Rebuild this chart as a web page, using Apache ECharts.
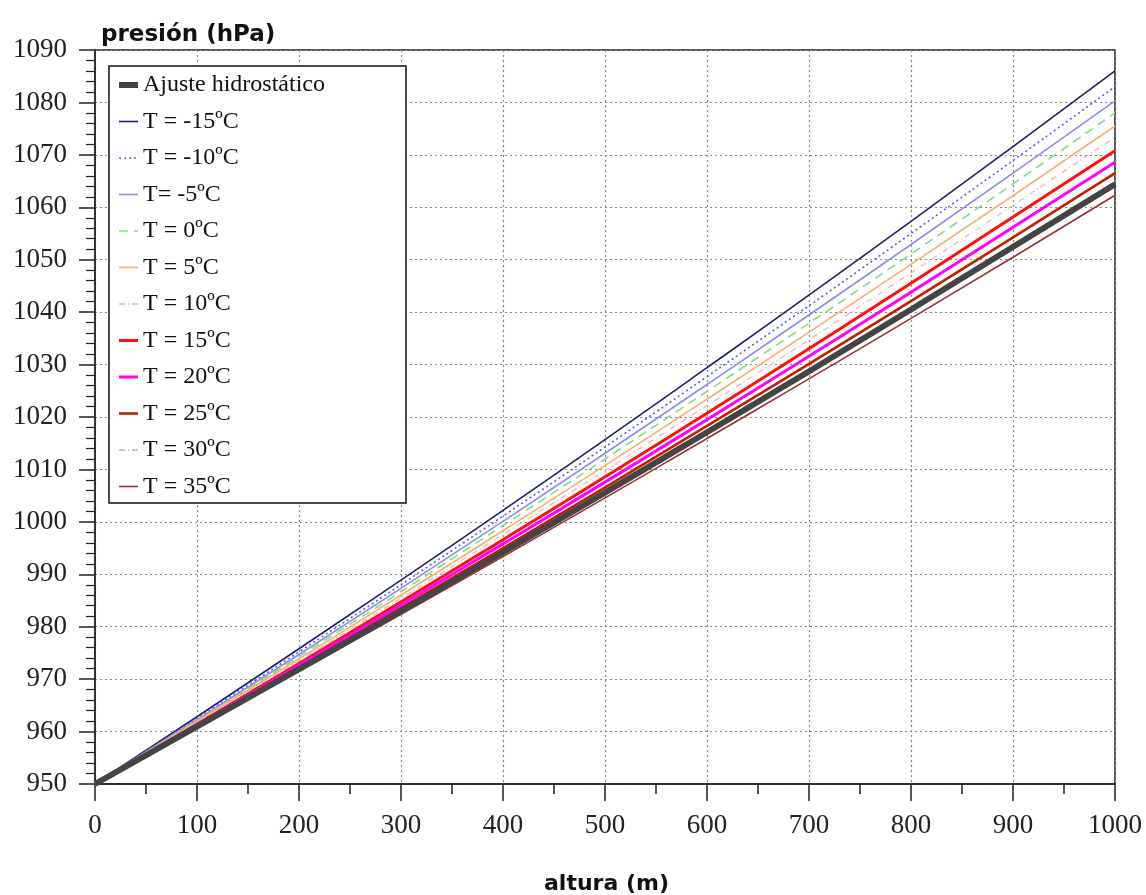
<!DOCTYPE html>
<html>
<head>
<meta charset="utf-8">
<script src="https://cdn.jsdelivr.net/npm/echarts@6/dist/echarts.min.js"></script>
<style>
  html, body { margin: 0; padding: 0; background: #fff; }
  #main { width: 1146px; height: 895px; }
</style>
</head>
<body>
<div id="main"></div>
<script>
// altura (m)
var heights = [0, 200, 400, 600, 800, 1000];

// presión (hPa)
var ajuste = [950, 971.9, 994.2, 1017.1, 1040.5, 1064.4];
var tM15 = [950, 975.8, 1002.2, 1029.4, 1057.3, 1086.0];
var tM10 = [950, 975.2, 1001.1, 1027.7, 1055.0, 1083.0];
var tM5 = [950, 974.7, 1000.1, 1026.2, 1052.9, 1080.3];
var t0 = [950, 974.3, 999.3, 1024.9, 1051.1, 1078.0];
var t5 = [950, 973.9, 998.3, 1023.4, 1049.1, 1075.5];
var t10 = [950, 973.5, 997.6, 1022.2, 1047.5, 1073.4];
var t15 = [950, 973.0, 996.6, 1020.7, 1045.5, 1070.8];
var t20 = [950, 972.6, 995.8, 1019.5, 1043.8, 1068.6];
var t25 = [950, 972.2, 995.0, 1018.3, 1042.1, 1066.5];
var t30 = [950, 971.8, 994.1, 1017.0, 1040.3, 1064.2];
var t35 = [950, 971.5, 993.4, 1015.9, 1038.8, 1062.3];

var serif = '"Times New Roman", "Liberation Serif", serif';
var dashDot = [6, 3, 1, 3];

function pairs(ys) {
  return heights.map(function (h, i) { return [h, ys[i]]; });
}

function line(name, ys, color, width, type, z) {
  return {
    name: name,
    type: 'line',
    data: pairs(ys),
    smooth: true,
    symbol: 'none',
    z: z || 2,
    lineStyle: { color: color, width: width, type: type || 'solid' },
    itemStyle: { color: color }
  };
}

var chart = echarts.init(document.getElementById('main'));

var option = {
  backgroundColor: '#fff',
  animation: false,
  title: [
    {
      text: 'presión (hPa)',
      left: 96, top: 19,
      textStyle: { fontFamily: '"DejaVu Sans", sans-serif', fontWeight: 'bold', fontSize: 23, color: '#111' }
    },
    {
      text: 'altura (m)',
      left: 544, top: 873,
      padding: 0,
      textStyle: { fontFamily: '"DejaVu Sans", sans-serif', fontWeight: 'bold', fontSize: 22, color: '#111' }
    }
  ],
  grid: {
    left: 95, right: 31, top: 50, bottom: 111,
    show: true, borderColor: '#222', borderWidth: 1.5
  },
  legend: {
    orient: 'vertical',
    left: 116, top: 73,
    padding: 0,
    z: 10,
    itemWidth: 19,
    itemHeight: 14,
    itemGap: 12.5,
    itemStyle: { opacity: 0 },
    lineStyle: { width: 'inherit' },
    textStyle: { fontFamily: serif, fontSize: 24, color: '#111' }
  },
  graphic: [{
    type: 'rect',
    z: 5,
    shape: { x: 109, y: 66, width: 297, height: 437 },
    style: { fill: '#fff', stroke: '#111', lineWidth: 1.5 }
  }],
  xAxis: {
    type: 'value',
    min: 0, max: 1000, interval: 100,
    axisLine: { lineStyle: { color: '#222', width: 1.5 } },
    axisTick: { show: true, length: 17, lineStyle: { color: '#222', width: 1.5 } },
    minorTick: { show: true, splitNumber: 2, length: 10, lineStyle: { color: '#222', width: 1.5 } },
    splitLine: { show: true, lineStyle: { color: '#888', type: [2, 3], width: 1.2 } },
    axisLabel: {
      margin: 28, fontFamily: serif, fontSize: 27, color: '#222',
      formatter: function (v) { return String(v); }
    }
  },
  yAxis: {
    type: 'value',
    min: 950, max: 1090, interval: 10,
    axisLine: { show: true, lineStyle: { color: '#222', width: 1.5 } },
    axisTick: { show: true, length: 16, lineStyle: { color: '#222', width: 1.5 } },
    minorTick: { show: true, splitNumber: 5, length: 9, lineStyle: { color: '#222', width: 1.2 } },
    splitLine: { show: true, lineStyle: { color: '#888', type: [2, 3], width: 1.2 } },
    axisLabel: {
      margin: 28, fontFamily: serif, fontSize: 27, color: '#222',
      formatter: function (v) { return String(v); }
    }
  },
  series: [
    line('Ajuste hidrostático', ajuste, '#444444', 6, 'solid', 3),
    line('T = -15ºC', tM15, '#20206e', 1.6),
    line('T = -10ºC', tM10, '#5a5af0', 1.6, [2, 3]),
    line('T= -5ºC', tM5, '#8c8cf0', 1.6),
    line('T = 0ºC', t0, '#80de80', 1.6, [9, 6]),
    line('T = 5ºC', t5, '#f5b070', 1.6),
    line('T = 10ºC', t10, '#f2b4b4', 1.3, dashDot),
    line('T = 15ºC', t15, '#ff1010', 3),
    line('T = 20ºC', t20, '#ff00ff', 3),
    line('T = 25ºC', t25, '#c02000', 2.6),
    line('T = 30ºC', t30, '#c8a8d8', 1.3, dashDot),
    line('T = 35ºC', t35, '#a03030', 1.6)
  ]
};

chart.setOption(option);
</script>
</body>
</html>
